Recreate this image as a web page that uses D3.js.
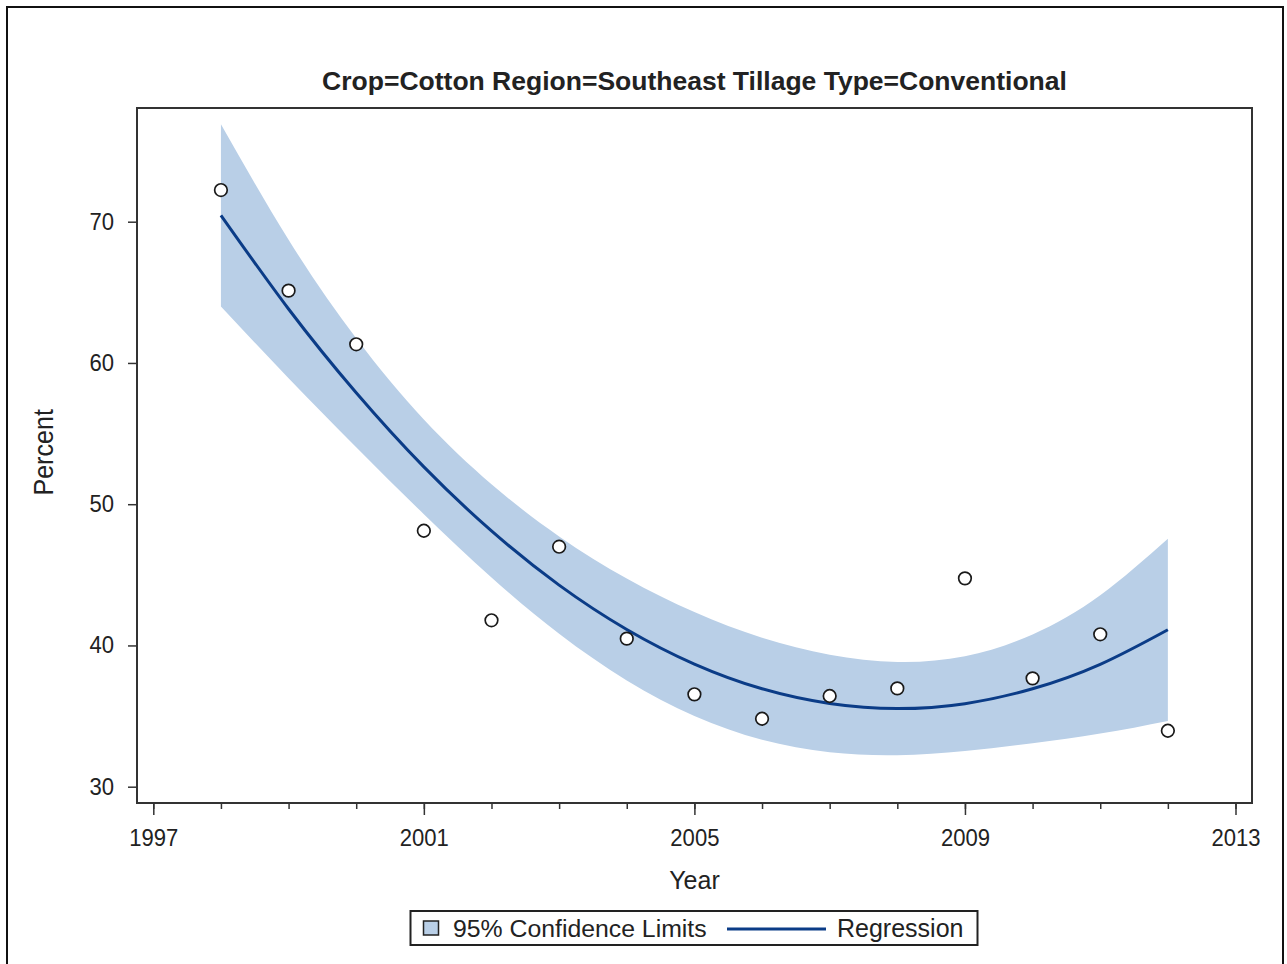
<!DOCTYPE html>
<html>
<head>
<meta charset="utf-8">
<script src="https://cdn.jsdelivr.net/npm/d3@7"></script>
<style>
  html, body { margin: 0; padding: 0; background: #fff; }
  svg text { font-family: "Liberation Sans", Arial, sans-serif; fill: #222; }
</style>
</head>
<body>
<svg id="chart" width="1287" height="964"></svg>
<script>
// ---- data ----
const title = "Crop=Cotton Region=Southeast Tillage Type=Conventional";
const years = [1998, 1999, 2000, 2001, 2002, 2003, 2004, 2005, 2006, 2007, 2008, 2009, 2010, 2011, 2012];
const percent = [72.24, 65.12, 61.32, 48.12, 41.78, 46.99, 40.48, 36.54, 34.81, 36.42, 36.96, 44.75, 37.67, 40.79, 33.96];
const fitted = [70.45, 63.82, 57.89, 52.64, 48.11, 44.27, 41.13, 38.68, 36.93, 35.89, 35.53, 35.88, 36.93, 38.66, 41.11];
const lowerCL = [64.00, 58.92, 54.04, 49.29, 44.81, 40.82, 37.52, 35.00, 33.32, 32.44, 32.23, 32.53, 33.08, 33.76, 34.66];
const upperCL = [76.90, 68.72, 61.74, 55.99, 51.41, 47.72, 44.74, 42.36, 40.54, 39.34, 38.83, 39.23, 40.78, 43.56, 47.56];
const xMajorTicks = [1997, 2001, 2005, 2009, 2013];
const xMinorTicks = [1997, 1998, 1999, 2000, 2001, 2002, 2003, 2004, 2005, 2006, 2007, 2008, 2009, 2010, 2011, 2012, 2013];
const yTicks = [30, 40, 50, 60, 70];
const xLabel = "Year";
const yLabel = "Percent";
const legendLabels = ["95% Confidence Limits", "Regression"];

// ---- layout ----
const bandColor = "#b9cfe7";
const lineColor = "#0b3c87";
const frame = {left: 137, top: 108, right: 1252, bottom: 803};
const tickSqueeze = 0.92;

const svg = d3.select("#chart");

// outer border
svg.append("path")
  .attr("d", "M7,966 L7,7 L1283,7 L1283,966")
  .attr("fill", "none").attr("stroke", "#111").attr("stroke-width", 2);

const x = d3.scaleLinear().domain([1997, 2013]).range([153.3, 1235.5]);
const y = d3.scaleLinear().domain([30, 70]).range([786.7, 221.7]);

const rows = years.map((yr, i) => ({yr, p: percent[i], f: fitted[i], lo: lowerCL[i], hi: upperCL[i]}));

// confidence band
svg.append("path")
  .datum(rows)
  .attr("fill", bandColor)
  .attr("d", d3.area().x(d => x(d.yr)).y0(d => y(d.lo)).y1(d => y(d.hi)).curve(d3.curveNatural));

// regression line
svg.append("path")
  .datum(rows)
  .attr("fill", "none")
  .attr("stroke", lineColor)
  .attr("stroke-width", 3)
  .attr("d", d3.line().x(d => x(d.yr)).y(d => y(d.f)).curve(d3.curveNatural));

// observed points
svg.append("g").selectAll("circle")
  .data(rows).join("circle")
  .attr("cx", d => x(d.yr)).attr("cy", d => y(d.p))
  .attr("r", 6.3)
  .attr("fill", "#fff")
  .attr("stroke", "#1a1a1a").attr("stroke-width", 1.7);

// frame
svg.append("rect")
  .attr("x", frame.left).attr("y", frame.top)
  .attr("width", frame.right - frame.left).attr("height", frame.bottom - frame.top)
  .attr("fill", "none").attr("stroke", "#333").attr("stroke-width", 2);

// x axis: minor ticks
const gxMinor = svg.append("g").attr("transform", `translate(0,${frame.bottom})`)
  .call(d3.axisBottom(x).tickValues(xMinorTicks).tickSize(6).tickFormat(""));
gxMinor.select(".domain").remove();
gxMinor.selectAll("line").attr("stroke", "#333").attr("stroke-width", 1.5);

// x axis: major ticks with labels
const gx = svg.append("g").attr("transform", `translate(0,${frame.bottom})`)
  .call(d3.axisBottom(x).tickValues(xMajorTicks).tickSize(12).tickFormat(d3.format("d")));
gx.select(".domain").remove();
gx.selectAll("line").attr("stroke", "#333").attr("stroke-width", 1.5);
gx.selectAll("text")
  .attr("y", 42.7).attr("dy", null)
  .attr("transform", `scale(${tickSqueeze},1)`)
  .style("font-size", "24px").attr("fill", "#222");

// y axis
const gy = svg.append("g").attr("transform", `translate(${frame.left},0)`)
  .call(d3.axisLeft(y).tickValues(yTicks).tickSize(9).tickPadding(14));
gy.select(".domain").remove();
gy.selectAll("line").attr("stroke", "#333").attr("stroke-width", 1.5);
gy.selectAll("text")
  .attr("dy", null).attr("y", 7.5)
  .attr("x", -23 / tickSqueeze)
  .attr("transform", `scale(${tickSqueeze},1)`)
  .style("font-size", "24px").attr("fill", "#222");

// title
svg.append("text")
  .attr("x", (frame.left + frame.right) / 2).attr("y", 89.5)
  .attr("text-anchor", "middle")
  .style("font-size", "26.5px").style("font-weight", "bold")
  .text(title);

// axis labels
svg.append("text")
  .attr("x", (frame.left + frame.right) / 2).attr("y", 889)
  .attr("text-anchor", "middle")
  .style("font-size", "25px")
  .text(xLabel);

svg.append("text")
  .attr("transform", `translate(52.5,${(408 + 496.7) / 2}) rotate(-90) scale(0.93,1)`)
  .attr("text-anchor", "middle")
  .style("font-size", "27px")
  .text(yLabel);

// legend
const lg = svg.append("g");
lg.append("rect")
  .attr("x", 410.5).attr("y", 911).attr("width", 567).attr("height", 34)
  .attr("fill", "#fff").attr("stroke", "#222").attr("stroke-width", 2);
lg.append("rect")
  .attr("x", 423.5).attr("y", 921).attr("width", 15).attr("height", 14)
  .attr("fill", bandColor).attr("stroke", "#222").attr("stroke-width", 1.5);
lg.append("text")
  .attr("x", 453).attr("y", 937)
  .style("font-size", "24.8px")
  .text(legendLabels[0]);
lg.append("line")
  .attr("x1", 727).attr("x2", 826).attr("y1", 929).attr("y2", 929)
  .attr("stroke", lineColor).attr("stroke-width", 3);
lg.append("text")
  .attr("x", 837).attr("y", 937)
  .style("font-size", "25px")
  .text(legendLabels[1]);
</script>
</body>
</html>
